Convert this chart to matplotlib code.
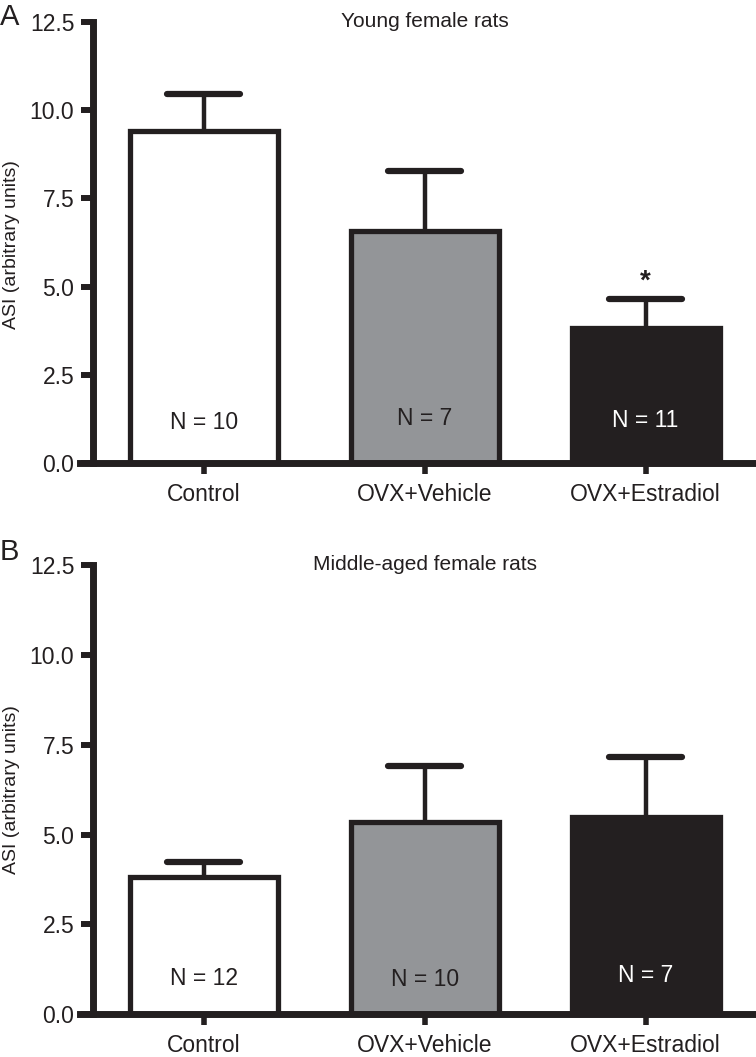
import numpy as np
import matplotlib
matplotlib.use("Agg")
import matplotlib.pyplot as plt

plt.rcParams['font.family'] = ['Liberation Sans', 'DejaVu Sans']

groups = ['Control', 'OVX+Vehicle', 'OVX+Estradiol']

# panel A: young female rats
young_mean = [9.40, 6.57, 3.83]
young_sem = [1.04, 1.70, 0.81]
young_n = ['N = 10', 'N = 7', 'N = 11']
young_n_y = [1.15, 1.27, 1.22]

# panel B: middle-aged female rats
middle_mean = [3.82, 5.36, 5.48]
middle_sem = [0.42, 1.56, 1.68]
middle_n = ['N = 12', 'N = 10', 'N = 7']
middle_n_y = [0.98, 0.96, 1.07]

yticks = [0.0, 2.5, 5.0, 7.5, 10.0, 12.5]

dark = '#231f20'
fills = ['white', '#939598', dark]
n_colors = [dark, dark, 'white']


def draw_panel(ax, means, sems, n_labels, n_y, title, star=None):
    x = np.arange(len(groups))
    tops = np.array(means) + np.array(sems)
    # upper error bars only
    ax.vlines(x, means, tops, color=dark, linewidth=3.2, zorder=1)
    ax.hlines(tops, x - 0.165, x + 0.165, color=dark, linewidth=4.5,
              capstyle='round', zorder=1)
    ax.bar(x, means, width=0.67, color=fills, edgecolor=dark, linewidth=3.8,
           zorder=2, clip_on=False)
    for xi, lab, yy, c in zip(x, n_labels, n_y, n_colors):
        ax.text(xi, yy, lab, ha='center', va='center', fontsize=16.5, color=c, zorder=3)
    if star is not None:
        ax.text(star[0], star[1], '*', ha='center', va='center', fontsize=20,
                fontweight='bold', color=dark)
    ax.text(1, 12.5, title, ha='center', va='center', fontsize=15, color=dark)

    ax.set_xlim(-0.56, 2.5)
    ax.set_ylim(0, 12.5)
    for s in ['top', 'right']:
        ax.spines[s].set_visible(False)
    ax.spines['left'].set_position(('data', -0.5))
    ax.spines['left'].set_linewidth(5)
    ax.spines['bottom'].set_linewidth(5)
    ax.spines['left'].set_color(dark)
    ax.spines['bottom'].set_color(dark)
    ax.set_yticks(yticks)
    ax.set_yticklabels([f'{v:.1f}' for v in yticks])
    ax.set_xticks(x)
    ax.set_xticklabels(groups)
    ax.tick_params(axis='y', direction='out', length=8.6, width=4.3, color=dark,
                   labelsize=16.5, pad=5, labelcolor=dark)
    ax.tick_params(axis='x', direction='out', length=8, width=4, color=dark,
                   labelsize=16.5, pad=6, labelcolor=dark)


fig = plt.figure(figsize=(7.56, 10.57), dpi=100)
ax1 = fig.add_axes([0.1058, 0.5615, 0.8942, 0.418])
ax2 = fig.add_axes([0.1058, 0.0405, 0.8942, 0.4250])

draw_panel(ax1, young_mean, young_sem, young_n, young_n_y, 'Young female rats', star=(2, 5.15))
draw_panel(ax2, middle_mean, middle_sem, middle_n, middle_n_y, 'Middle-aged female rats')

fig.text(12 / 756, 1 - 245 / 1057, 'ASI (arbitrary units)', rotation=90,
         ha='center', va='center', fontsize=14, color=dark)
fig.text(12 / 756, 1 - 790 / 1057, 'ASI (arbitrary units)', rotation=90,
         ha='center', va='center', fontsize=14, color=dark)
fig.text(0.0, 1 - 25 / 1057, 'A', fontsize=21, color=dark, va='baseline')
fig.text(0.0, 1 - 560 / 1057, 'B', fontsize=21, color=dark, va='baseline')

fig.savefig('out.png', dpi=100)
